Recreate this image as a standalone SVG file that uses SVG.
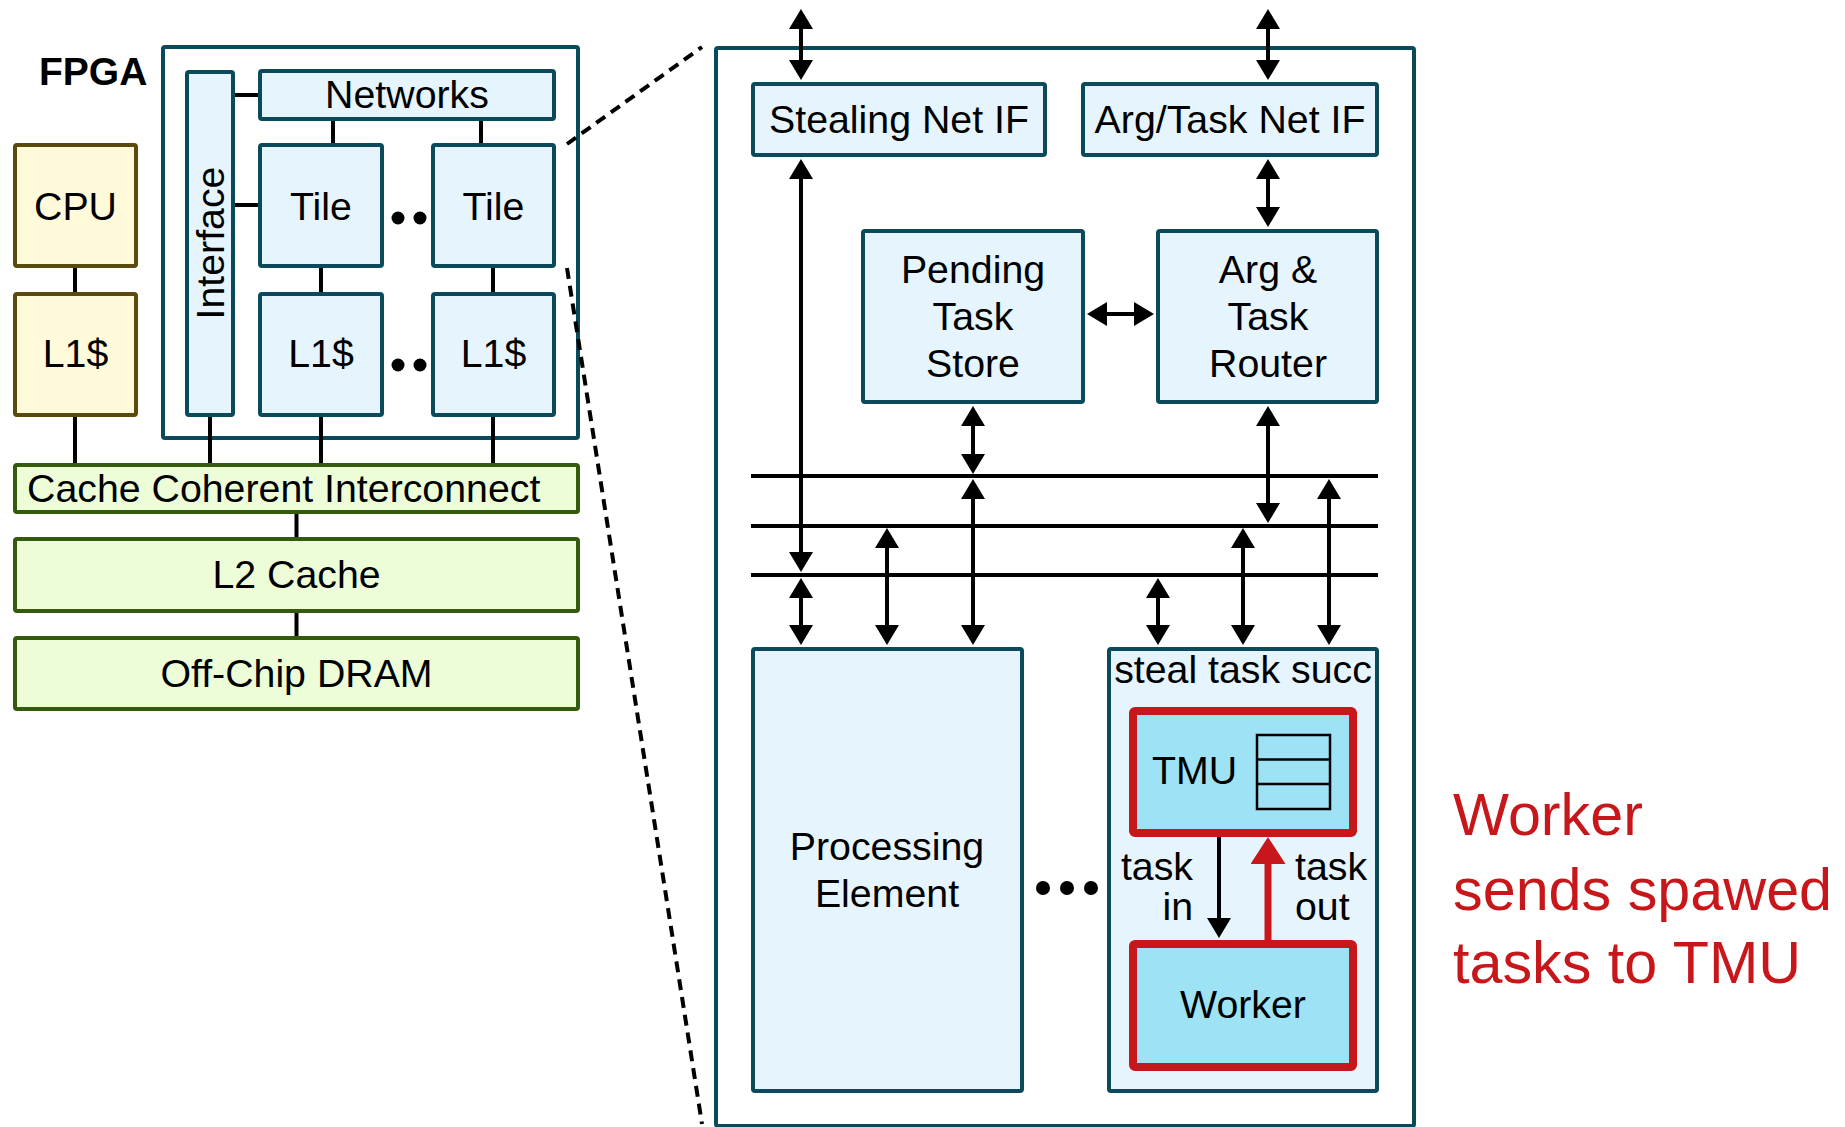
<svg xmlns="http://www.w3.org/2000/svg" width="1845" height="1127" viewBox="0 0 1845 1127">
  <style>
    text { font-family: "Liberation Sans", Arial, sans-serif; font-size: 39.3px; fill: #000; }
    .c { text-anchor: middle; }
    .blk { fill: #e6f4fd; stroke: #0b4a5b; stroke-width: 4; }
    .frame { fill: #fff; stroke: #0b4a5b; stroke-width: 4; }
    .cpu { fill: #fffad9; stroke: #5a4a0c; stroke-width: 4; }
    .mem { fill: #ecfdd8; stroke: #345a0c; stroke-width: 4; }
    .hot { fill: #9ee3f5; stroke: #c8171b; stroke-width: 8; }
    .wire { stroke: #000; stroke-width: 4; fill: none; }
    .arr { stroke: #000; stroke-width: 4; fill: none; marker-start: url(#ah); marker-end: url(#ah); }
    .zoom { stroke: #000; stroke-width: 4; stroke-dasharray: 11 7; fill: none; }
    .note { fill: #c8171b; font-size: 59.3px; }
  </style>
  <defs>
    <marker id="ah" markerUnits="userSpaceOnUse" markerWidth="21" markerHeight="24" refX="12" refY="12" orient="auto-start-reverse">
      <path d="M0,0 L20,12 L0,24 Z" fill="#000"/>
    </marker>
    <marker id="ahRed" markerUnits="userSpaceOnUse" markerWidth="28" markerHeight="36" refX="19" refY="17.5" orient="auto">
      <path d="M0,0 L27,17.5 L0,35 Z" fill="#c8171b"/>
    </marker>
  </defs>

  <!-- ===== System overview (left) ===== -->
  <text x="39" y="85" style="font-weight:bold;font-size:39px">FPGA</text>

  <g id="fpga">
    <rect class="frame" x="163" y="47" width="415" height="391" rx="2"/>
  </g>
  <g id="interface">
    <rect class="blk" x="187" y="72" width="46" height="343" rx="2"/>
    <text class="c" transform="translate(224,243) rotate(-90)">Interface</text>
  </g>
  <g id="networks">
    <rect class="blk" x="260" y="71" width="294" height="48" rx="2"/>
    <text class="c" x="407" y="108">Networks</text>
  </g>
  <g id="tile-0">
    <rect class="blk" x="260" y="145" width="122" height="121" rx="2"/>
    <text class="c" x="321" y="220">Tile</text>
  </g>
  <g id="tile-n">
    <rect class="blk" x="433" y="145" width="121" height="121" rx="2"/>
    <text class="c" x="493.5" y="220">Tile</text>
  </g>
  <g id="l1-0">
    <rect class="blk" x="260" y="294" width="122" height="121" rx="2"/>
    <text class="c" x="321" y="367">L1$</text>
  </g>
  <g id="l1-n">
    <rect class="blk" x="433" y="294" width="121" height="121" rx="2"/>
    <text class="c" x="493.5" y="367">L1$</text>
  </g>
  <g id="tile-dots">
    <circle cx="398" cy="218" r="6.5"/>
    <circle cx="420" cy="218" r="6.5"/>
    <circle cx="398" cy="365" r="6.5"/>
    <circle cx="420" cy="365" r="6.5"/>
  </g>
  <g id="cpu">
    <rect class="cpu" x="15" y="145" width="121" height="121" rx="2"/>
    <text class="c" x="75.5" y="220">CPU</text>
  </g>
  <g id="cpu-l1">
    <rect class="cpu" x="15" y="294" width="121" height="121" rx="2"/>
    <text class="c" x="75.5" y="367">L1$</text>
  </g>
  <g id="cci">
    <rect class="mem" x="15" y="465" width="563" height="47" rx="2"/>
    <text x="27" y="502">Cache Coherent Interconnect</text>
  </g>
  <g id="l2">
    <rect class="mem" x="15" y="539" width="563" height="72" rx="2"/>
    <text class="c" x="296.5" y="588">L2 Cache</text>
  </g>
  <g id="dram">
    <rect class="mem" x="15" y="638" width="563" height="71" rx="2"/>
    <text class="c" x="296.5" y="687">Off-Chip DRAM</text>
  </g>

  <!-- ===== Processing element detail (right) ===== -->
  <g id="pe-frame">
    <rect class="frame" x="716" y="48" width="698" height="1078" rx="2"/>
  </g>
  <g id="stealing-net-if">
    <rect class="blk" x="753" y="84" width="292" height="71" rx="2"/>
    <text class="c" x="899" y="133">Stealing Net IF</text>
  </g>
  <g id="argtask-net-if">
    <rect class="blk" x="1083" y="84" width="294" height="71" rx="2"/>
    <text class="c" x="1230" y="133">Arg/Task Net IF</text>
  </g>
  <g id="pending-task-store">
    <rect class="blk" x="863" y="231" width="220" height="171" rx="2"/>
    <text class="c" x="973" y="283">Pending</text>
    <text class="c" x="973" y="330">Task</text>
    <text class="c" x="973" y="377">Store</text>
  </g>
  <g id="arg-task-router">
    <rect class="blk" x="1158" y="231" width="219" height="171" rx="2"/>
    <text class="c" x="1268" y="283">Arg &amp;</text>
    <text class="c" x="1268" y="330">Task</text>
    <text class="c" x="1268" y="377">Router</text>
  </g>
  <g id="processing-element">
    <rect class="blk" x="753" y="649" width="269" height="442" rx="2"/>
    <text class="c" x="887" y="860">Processing</text>
    <text class="c" x="887" y="907">Element</text>
  </g>
  <g id="pe-dots">
    <circle cx="1043" cy="888" r="7"/>
    <circle cx="1067" cy="888" r="7"/>
    <circle cx="1091" cy="888" r="7"/>
  </g>
  <g id="worker-pe">
    <rect class="blk" x="1109" y="649" width="268" height="442" rx="2"/>
    <text class="c" x="1243" y="683">steal task succ</text>
  </g>
  <g id="tmu">
    <rect class="hot" x="1133" y="711" width="220" height="122" rx="2"/>
    <text x="1152" y="784">TMU</text>
    <rect x="1257" y="735" width="73" height="74" fill="none" stroke="#000" stroke-width="2.5"/>
    <line x1="1257" y1="759.5" x2="1330" y2="759.5" stroke="#000" stroke-width="2.5"/>
    <line x1="1257" y1="784" x2="1330" y2="784" stroke="#000" stroke-width="2.5"/>
  </g>
  <g id="worker">
    <rect class="hot" x="1133" y="944" width="220" height="123" rx="2"/>
    <text class="c" x="1243" y="1018">Worker</text>
  </g>

  <!-- ===== Connectors ===== -->
  <g id="connectors">
    <!-- overview wiring -->
    <line class="wire" x1="235" y1="95" x2="258" y2="95"/>
    <line class="wire" x1="235" y1="205" x2="258" y2="205"/>
    <line class="wire" x1="333" y1="121" x2="333" y2="143"/>
    <line class="wire" x1="481" y1="121" x2="481" y2="143"/>
    <line class="wire" x1="321" y1="268" x2="321" y2="292"/>
    <line class="wire" x1="493" y1="268" x2="493" y2="292"/>
    <line class="wire" x1="75" y1="268" x2="75" y2="292"/>
    <line class="wire" x1="75" y1="417" x2="75" y2="463"/>
    <line class="wire" x1="210" y1="417" x2="210" y2="463"/>
    <line class="wire" x1="321" y1="417" x2="321" y2="463"/>
    <line class="wire" x1="493" y1="417" x2="493" y2="463"/>
    <line class="wire" x1="296.5" y1="514" x2="296.5" y2="537"/>
    <line class="wire" x1="296.5" y1="613" x2="296.5" y2="636"/>

    <!-- zoom-in guides -->
    <line class="zoom" x1="567" y1="144" x2="702" y2="47"/>
    <line class="zoom" x1="567" y1="268" x2="702" y2="1124"/>

    <!-- on-chip buses -->
    <line class="wire" x1="751" y1="476" x2="1378" y2="476"/>
    <line class="wire" x1="751" y1="526" x2="1378" y2="526"/>
    <line class="wire" x1="751" y1="575" x2="1378" y2="575"/>

    <!-- network ports -->
    <line class="arr" x1="801" y1="17" x2="801" y2="72"/>
    <line class="arr" x1="1268" y1="17" x2="1268" y2="72"/>
    <!-- stealing IF to bus -->
    <line class="arr" x1="801" y1="167" x2="801" y2="564"/>
    <!-- arg/task IF to router -->
    <line class="arr" x1="1268" y1="167" x2="1268" y2="219"/>
    <!-- pending store to router -->
    <line class="arr" x1="1095" y1="314" x2="1146" y2="314"/>
    <!-- pending store to bus -->
    <line class="arr" x1="973" y1="414" x2="973" y2="466"/>
    <!-- router to bus -->
    <line class="arr" x1="1268" y1="414" x2="1268" y2="515"/>
    <!-- bus to processing element -->
    <line class="arr" x1="801" y1="586" x2="801" y2="637"/>
    <line class="arr" x1="887" y1="536" x2="887" y2="637"/>
    <line class="arr" x1="973" y1="487" x2="973" y2="637"/>
    <!-- bus to worker PE -->
    <line class="arr" x1="1158" y1="586" x2="1158" y2="637"/>
    <line class="arr" x1="1243" y1="536" x2="1243" y2="637"/>
    <line class="arr" x1="1329" y1="487" x2="1329" y2="637"/>

    <!-- TMU / worker -->
    <line x1="1219" y1="837" x2="1219" y2="930" stroke="#000" stroke-width="4" marker-end="url(#ah)"/>
    <line x1="1268" y1="940" x2="1268" y2="845" stroke="#c8171b" stroke-width="7" marker-end="url(#ahRed)"/>
  </g>

  <g id="labels">
    <text x="1193" y="880" text-anchor="end">task</text>
    <text x="1193" y="920" text-anchor="end">in</text>
    <text x="1295" y="880">task</text>
    <text x="1295" y="920">out</text>
    <text class="note" x="1453" y="835">Worker</text>
    <text class="note" x="1453" y="910">sends spawed</text>
    <text class="note" x="1453" y="983">tasks to TMU</text>
  </g>
</svg>
